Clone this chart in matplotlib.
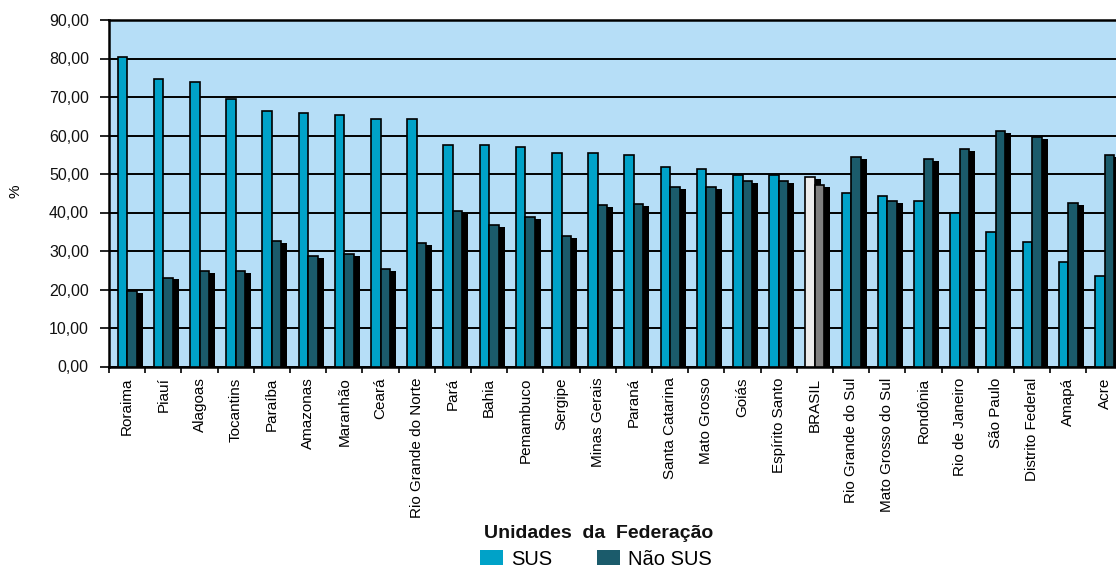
import matplotlib
matplotlib.use("Agg")
import matplotlib.pyplot as plt
from matplotlib.patches import Patch
import numpy as np

plt.rcParams['font.family'] = ['Liberation Sans', 'DejaVu Sans']

categories = ["Roraima", "Piauí", "Alagoas", "Tocantins", "Paraíba", "Amazonas",
              "Maranhão", "Ceará", "Rio Grande do Norte", "Pará", "Bahia",
              "Pemambuco", "Sergipe", "Minas Gerais", "Paraná", "Santa Catarina",
              "Mato Grosso", "Goiás", "Espírito Santo", "BRASIL", "Rio Grande do Sul",
              "Mato Grosso do Sul", "Rondônia", "Rio de Janeiro", "São Paulo",
              "Distrito Federal", "Amapá", "Acre"]

sus = [80.5, 74.8, 73.8, 69.5, 66.4, 65.9, 65.3, 64.3, 64.3, 57.5, 57.5,
       57.1, 55.4, 55.4, 54.9, 51.8, 51.2, 49.7, 49.7, 49.1, 45.0, 44.4,
       42.9, 39.8, 35.0, 32.4, 27.2, 23.5]
nao_sus = [19.5, 23.1, 24.7, 24.7, 32.5, 28.8, 29.3, 25.2, 32.0, 40.3, 36.7,
           38.8, 34.0, 41.9, 42.3, 46.7, 46.6, 48.2, 48.2, 47.1, 54.4, 42.9,
           53.9, 56.4, 61.2, 59.6, 42.4, 55.0]
yticks = [0, 10, 20, 30, 40, 50, 60, 70, 80, 90]

c_sus = "#00a2c8"
c_nao = "#1b5b6b"
c_bg = "#b6def7"
c_br_sus = "#ececec"
c_br_nao = "#808080"

W, H = 1116, 569
fig = plt.figure(figsize=(W / 100, H / 100), dpi=100)
left_px, top_px, bot_px = 109, 20, 366.5
cat_px = 36.2
ax = fig.add_axes([left_px / W, 1 - bot_px / H, 28 * cat_px / W, (bot_px - top_px) / H])
ax.set_facecolor(c_bg)

n = len(categories)
x = np.arange(n) + 0.5
w = 0.26
dx = 0.17
dy = 0.5

is_br = np.array([c == "BRASIL" for c in categories])
col_s = [c_br_sus if b else c_sus for b in is_br]
col_n = [c_br_nao if b else c_nao for b in is_br]

# shadows (Não SUS series, and the highlighted BRASIL SUS bar)
ax.bar(x[is_br] - w / 2 + dx, np.array(sus)[is_br], width=w, bottom=-dy, color="black",
       linewidth=0, zorder=2, clip_on=False)
ax.bar(x + w / 2 + dx, np.array(nao_sus), width=w, bottom=-dy, color="black",
       linewidth=0, zorder=2, clip_on=False)
# bars
ax.bar(x - w / 2, sus, width=w, color=col_s, edgecolor="black", linewidth=1.2, zorder=3)
ax.bar(x + w / 2, nao_sus, width=w, color=col_n, edgecolor="black", linewidth=1.2, zorder=4)

ax.set_xlim(0, n)
ax.set_ylim(0, 90)
ax.set_yticks(yticks)
ax.set_yticklabels([f"{v:.2f}".replace(".", ",") for v in yticks], fontsize=11.5, color="#111111")
ax.yaxis.grid(True, color="black", linewidth=1.4, zorder=1)
ax.set_axisbelow(True)

ax.set_xticks(np.arange(n + 1))
ax.set_xticklabels([])
ax.set_xticks(x, minor=True)
ax.set_xticklabels(categories, minor=True, rotation=90, fontsize=11, va="top", ha="center")
ax.tick_params(axis="x", which="major", length=4, width=1.2, direction="out")
ax.tick_params(axis="x", which="minor", length=0, pad=8)
ax.tick_params(axis="y", length=6.5, width=1.2, direction="out", pad=8)

for s in ["left", "bottom", "top"]:
    ax.spines[s].set_linewidth(1.8)
    ax.spines[s].set_color("black")
ax.spines["right"].set_visible(False)

fig.text(16 / W, 1 - 191 / H, "%", rotation=90, fontsize=11, ha="center", va="center")
fig.text(599 / W, 1 - 538.3 / H, "Unidades  da  Federação", fontsize=14, fontweight="bold",
         ha="center", va="baseline", color="#111111")

handles = [Patch(facecolor=c_sus, edgecolor="none", label="SUS"),
           Patch(facecolor=c_nao, edgecolor="none", label="Não SUS")]
fig.legend(handles=handles, loc="lower left", bbox_to_anchor=(480 / W, 0.0008),
           ncol=2, frameon=False, fontsize=14.5, handlelength=1.16, handleheight=0.8,
           columnspacing=2.2, handletextpad=0.4, borderpad=0.0, borderaxespad=0.0)

fig.savefig("out.png", dpi=100)
